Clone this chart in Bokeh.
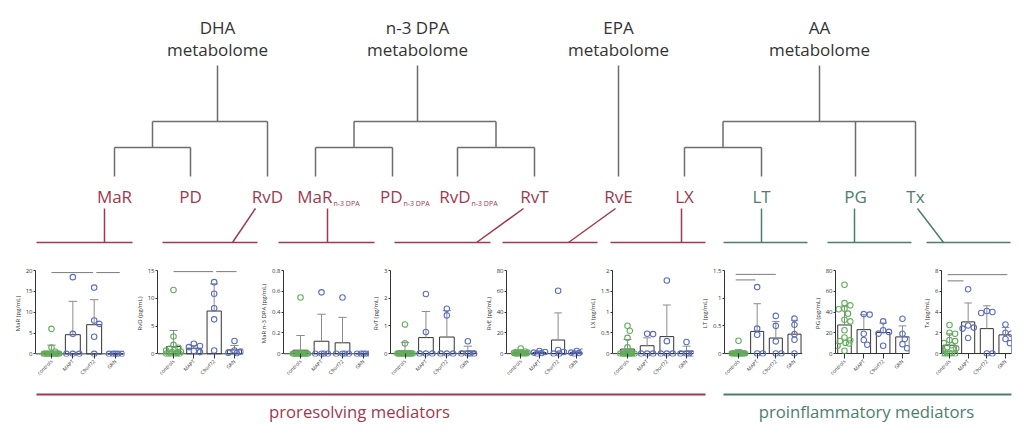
import math
from bokeh.plotting import figure
from bokeh.layouts import column, row
from bokeh.models import Range1d, FixedTicker, LinearAxis
from bokeh.core.properties import value
from bokeh.embed import file_html
from bokeh.resources import INLINE

FONT = "Open Sans"
RED = "#9e3a4f"
GREEN = "#4e7d6f"
TREE = "#6d6d6d"
DARK = "#333333"
ERR = "#8c8c8c"
PT_CTRL = "#62ad5c"
PT_PAT = "#5b6fbf"

# ---------------- data ----------------
groups = ["controls", "MAPT", "C9orf72", "GRN"]
mediators = ["MaR", "RvD", "MaR n-3 DPA", "RvT", "RvE", "LX", "LT", "PG", "Tx"]
y_titles = ["MaR (pg/mL)", "RvD (pg/mL)", "MaR n-3 DPA (pg/mL)", "RvT (pg/mL)", "RvE (pg/mL)",
            "LX (pg/mL)", "LT (pg/mL)", "PG (pg/mL)", "Tx (pg/mL)"]
y_max = [20, 15, 0.8, 3, 80, 2.0, 1.5, 80, 8]
y_ticks = [[0, 5, 10, 15, 20], [0, 5, 10, 15], [0, 0.2, 0.4, 0.6, 0.8], [0, 1, 2, 3],
           [0, 20, 40, 60, 80], [0, 0.5, 1.0, 1.5, 2.0], [0, 0.5, 1.0, 1.5], [0, 20, 40, 60, 80],
           [0, 2, 4, 6, 8]]

MaR_mean = [0.5, 4.6, 7.0, 0.0]
MaR_sdtop = [2.1, 12.6, 13.0, 0.0]
MaR_pts = [[6.0, 1.5, 0.5] + [0] * 13, [18.4, 4.8, 0, 0, 0], [15.9, 8.0, 7.2, 4.1, 0], [0, 0, 0, 0, 0]]

RvD_mean = [1.3, 1.0, 7.7, 0.7]
RvD_sdtop = [4.2, 1.5, 12.6, 1.5]
RvD_pts = [[11.5, 3.1, 1.6, 1.1, 0.9, 0.8, 0.6, 0.4, 0.3, 0.2, 0, 0, 0, 0, 0, 0],
           [1.8, 1.4, 1.2, 0.5, 0.3], [12.9, 10.8, 8.2, 6.2, 0.6], [2.3, 0.6, 0.4, 0.2, 0.1]]

MaRn3_mean = [0.034, 0.12, 0.105, 0.0]
MaRn3_sdtop = [0.175, 0.38, 0.35, 0.0]
MaRn3_pts = [[0.54] + [0] * 15, [0.59, 0, 0, 0, 0], [0.54, 0, 0, 0, 0], [0, 0, 0, 0, 0]]

RvT_mean = [0.09, 0.58, 0.6, 0.09]
RvT_sdtop = [0.4, 1.52, 1.55, 0.27]
RvT_pts = [[1.05, 0.37] + [0] * 14, [2.15, 0.78, 0, 0, 0], [1.62, 1.38, 0, 0, 0], [0.45, 0, 0, 0, 0]]

RvE_mean = [0.9, 1.1, 13.1, 1.2]
RvE_sdtop = [2.3, 2.1, 39.2, 2.2]
RvE_pts = [[5.0, 2.0, 1.5, 1.2, 1.0, 0.8, 0.6, 0.5, 0.4, 0.3, 0.2, 0.2, 0.1, 0, 0, 0],
           [2.5, 1.5, 1.0, 0.5, 0], [60.5, 3.5, 1.5, 0, 0], [2.5, 2.0, 1.0, 0.5, 0]]

LX_mean = [0.11, 0.19, 0.41, 0.056]
LX_sdtop = [0.34, 0.38, 1.17, 0.18]
LX_pts = [[0.67, 0.55, 0.38, 0.15, 0.05] + [0] * 11, [0.48, 0.47, 0, 0, 0], [1.76, 0.3, 0, 0, 0],
          [0.28, 0, 0, 0, 0]]

LT_mean = [0.014, 0.4, 0.28, 0.35]
LT_sdtop = [0.07, 0.9, 0.58, 0.6]
LT_pts = [[0.23] + [0] * 15, [1.2, 0.45, 0.34, 0, 0], [0.68, 0.5, 0.22, 0, 0], [0.63, 0.52, 0.35, 0.25, 0]]

PG_mean = [27.5, 23.0, 20.2, 16.0]
PG_sdtop = [45.8, 37.4, 29.4, 26.6]
PG_pts = [[66.2, 48.6, 46.4, 43.2, 42.6, 38.4, 32.6, 31.0, 22.4, 15.4, 12.8, 12.0, 10.2, 9.6, 7.4, 2.6],
          [38.0, 37.5, 19.0, 13.0, 8.5], [31.0, 22.4, 20.8, 19.2, 7.4], [33.5, 19.0, 14.0, 9.0, 5.0]]

Tx_mean = [0.8, 3.05, 2.4, 1.8]
Tx_sdtop = [1.9, 4.87, 4.6, 2.5]
Tx_pts = [[2.75, 2.0, 1.9, 1.3, 1.2, 1.0, 0.8, 0.6, 0.5, 0.3, 0, 0, 0, 0, 0, 0],
          [6.2, 2.7, 2.5, 2.4, 1.5], [4.1, 4.0, 3.9, 0, 0], [2.8, 2.0, 1.9, 1.4, 1.0]]

means = [MaR_mean, RvD_mean, MaRn3_mean, RvT_mean, RvE_mean, LX_mean, LT_mean, PG_mean, Tx_mean]
sdtops = [MaR_sdtop, RvD_sdtop, MaRn3_sdtop, RvT_sdtop, RvE_sdtop, LX_sdtop, LT_sdtop, PG_sdtop, Tx_sdtop]
points = [MaR_pts, RvD_pts, MaRn3_pts, RvT_pts, RvE_pts, LX_pts, LT_pts, PG_pts, Tx_pts]

# significance brackets: (panel, from group, to group, y level)
sig_panel = [0, 0, 1, 1, 6, 6, 6, 8, 8]
sig_from = [1, 3.1, 1, 3.1, 0.85, 0.85, 0.85, 0.9, 0.9]
sig_to = [2.95, 4.2, 2.95, 4.1, 4, 3, 1.9, 4.1, 1.75]
sig_y = [19.5, 19.5, 14.8, 14.8, 1.52, 1.43, 1.33, 7.6, 7.0]

# tree
headers = ["DHA", "n-3 DPA", "EPA", "AA"]
header_x = [217, 417, 618, 819]
leaf_names = ["MaR", "PD", "RvD", "MaR_n3", "PD_n3", "RvD_n3", "RvT", "RvE", "LX", "LT", "PG", "Tx"]
leaf_x = [114, 190, 267, 315, 392, 457, 534, 618, 684, 761, 855, 915]
leaf_color = [RED] * 9 + [GREEN] * 3
trees = [[["MaR", "PD"], "RvD"],
         [["MaR_n3", "PD_n3"], ["RvD_n3", "RvT"]],
         "RvE",
         [["LX", "LT"], "PG", "Tx"]]

# ---------------- layout (page pixels) ----------------
# fig_left, axis_x, frame_right, first category px, last category px, top-tick px
PANEL_PX = [(0, 35, 124, 51, 115, 258),
            (130, 157, 243, 173, 234, 261),
            (252, 283, 369, 300, 363, 263),
            (369, 387, 477, 402, 467, 265),
            (481, 502, 582, 517, 576, 266),
            (584, 612, 693, 627, 686, 266),
            (695, 724, 802, 738, 794, 269),
            (804, 835, 909, 844, 902, 270),
            (918, 941, 1011, 949, 1005, 269)]
PAGE_L, PAGE_R = 0, 1016
TOP_T, TOP_B = 0, 250
FIG_TOP, FIG_BOT = 250, 385
BOT_B = 426
ZERO = 353
PAD = 3
DIAM = 5.5


def swarm(vals, ppu, sp):
    """simple beeswarm: offsets (category units) so circles do not overlap"""
    cands = [0.0]
    for j in range(1, 7):
        cands += [0.06 * j, -0.06 * j]
    placed = []
    offs = [0.0] * len(vals)
    for k in sorted(range(len(vals)), key=lambda k: -vals[k]):
        best, best_d = None, -1
        for c in cands:
            d = min([math.hypot((c - o) * sp, (vals[k] - v) * ppu) for o, v in placed] + [99])
            if d >= DIAM:
                best = c
                break
            if d > best_d:
                best, best_d = c, d
        offs[k] = best
        placed.append((best, vals[k]))
    return offs


def make_panel(i):
    fl, ax, frr, c1, c4, topv = PANEL_PX[i]
    fig_r = PANEL_PX[i + 1][0] if i < 8 else PAGE_R
    sp = (c4 - c1) / 3
    xs = 1 + (ax - c1) / sp
    xe = 1 + (frr - c1) / sp
    ppu = (ZERO - topv) / y_max[i]
    ys = -PAD / ppu
    p = figure(width=fig_r - fl, height=FIG_BOT - FIG_TOP,
               x_range=Range1d(xs, xe), y_range=Range1d(ys, y_max[i]),
               output_backend="svg", toolbar_location=None, title=None,
               x_axis_location=None, y_axis_location="left",
               min_border_left=ax - fl, min_border_right=fig_r - frr,
               min_border_top=topv - FIG_TOP, min_border_bottom=FIG_BOT - (ZERO + PAD))
    p.outline_line_color = None
    p.xgrid.visible = False
    p.ygrid.visible = False

    xcat = [k + 1 for k in range(4)]
    p.vbar(x=xcat, top=means[i], bottom=0, width=0.7, fill_color="white",
           line_color=DARK, line_width=1)
    # error bars (mean to mean+SD)
    ex0, ey0, ey1, cx0, cx1 = [], [], [], [], []
    for k in range(4):
        if sdtops[i][k] > means[i][k]:
            ex0.append(xcat[k]); ey0.append(means[i][k]); ey1.append(sdtops[i][k])
            cx0.append(xcat[k] - 0.2); cx1.append(xcat[k] + 0.2)
    p.segment(x0=ex0, y0=ey0, x1=ex0, y1=ey1, line_color=ERR, line_width=1)
    p.segment(x0=cx0, y0=ey1, x1=cx1, y1=ey1, line_color=ERR, line_width=1)
    # x baseline at zero (axis line)
    p.segment(x0=[xs], y0=[0], x1=[xe], y1=[0], line_color=DARK, line_width=1)
    # points
    for k in range(4):
        vals = points[i][k]
        offs = swarm(vals, ppu, sp)
        p.scatter(x=[xcat[k] + o for o in offs], y=vals, marker="circle", size=DIAM,
                  fill_color=None, line_color=PT_CTRL if k == 0 else PT_PAT, line_width=1.1)
    # significance lines
    sx0 = [sig_from[j] for j in range(len(sig_panel)) if sig_panel[j] == i]
    sx1 = [sig_to[j] for j in range(len(sig_panel)) if sig_panel[j] == i]
    sy = [sig_y[j] for j in range(len(sig_panel)) if sig_panel[j] == i]
    if sx0:
        p.segment(x0=sx0, y0=sy, x1=sx1, y1=sy, line_color="#7a7a7a", line_width=1)

    # category axis
    xa = LinearAxis(ticker=FixedTicker(ticks=xcat),
                    major_label_overrides={xcat[k]: groups[k] for k in range(4)},
                    major_label_orientation=0.785)
    p.add_layout(xa, "below")

    ya = p.yaxis[0]
    ya.ticker = FixedTicker(ticks=y_ticks[i])
    ya.bounds = (0, y_max[i])
    ya.axis_label = y_titles[i]
    for a in (xa, ya):
        a.axis_line_color = DARK
        a.axis_line_width = 1
        a.major_tick_line_color = DARK
        a.major_tick_out = 2
        a.major_tick_in = 0
        a.minor_tick_out = 0
        a.minor_tick_in = 0
        a.major_label_text_font = FONT
        a.major_label_text_color = DARK
        a.major_label_standoff = 1
        a.axis_label_text_font = FONT
        a.axis_label_text_font_size = "6px"
        a.axis_label_text_font_style = "normal"
        a.axis_label_text_color = DARK
        a.axis_label_standoff = 1
    xa.axis_line_color = None
    xa.major_tick_in = PAD
    xa.major_label_standoff = 2
    ya.major_label_text_font_size = "6px"
    xa.major_label_text_font_size = "5px"
    return p


# ---------------- top figure: tree ----------------
top = figure(width=PAGE_R - PAGE_L, height=TOP_B - TOP_T,
             x_range=Range1d(PAGE_L, PAGE_R), y_range=Range1d(TOP_B, TOP_T),
             output_backend="svg", toolbar_location=None, title=None,
             x_axis_location=None, y_axis_location=None, min_border=0)
top.outline_line_color = None
top.xgrid.visible = False
top.ygrid.visible = False

HDR_TOP, BAR_Y, LEAF_Y = 65, [121, 147], 176
segs = {"x0": [], "y0": [], "x1": [], "y1": []}


def add_seg(a, b, c, d):
    segs["x0"].append(a); segs["y0"].append(b); segs["x1"].append(c); segs["y1"].append(d)


def draw(node, parent_y, level):
    if isinstance(node, str):
        x = leaf_x[leaf_names.index(node)]
        add_seg(x, parent_y, x, LEAF_Y)
        return x
    own_y = BAR_Y[level]
    xs = [draw(c, own_y, level + 1) for c in node]
    add_seg(min(xs), own_y, max(xs), own_y)
    x = (min(xs) + max(xs)) / 2
    add_seg(x, parent_y, x, own_y)
    return x


for t, hx in zip(trees, header_x):
    if isinstance(t, str):
        add_seg(hx, HDR_TOP, hx, LEAF_Y)
    else:
        xs = [draw(c, BAR_Y[0], 1) for c in t]
        add_seg(min(xs), BAR_Y[0], max(xs), BAR_Y[0])
        add_seg(hx, HDR_TOP, hx, BAR_Y[0])
top.segment(x0="x0", y0="y0", x1="x1", y1="y1", source=segs, line_color=TREE, line_width=1.5)

top.text(x=header_x, y=[27] * 4, text=headers, text_font=value(FONT), text_font_size="17px",
         text_color=DARK, text_align="center", text_baseline="middle")
top.text(x=header_x, y=[49] * 4, text=["metabolome"] * 4, text_font=value(FONT), text_font_size="17px",
         text_color=DARK, text_align="center", text_baseline="middle")

# leaf labels
main_txt = ["MaR", "PD", "RvD", "MaR", "PD", "RvD", "RvT", "RvE", "LX", "LT", "PG", "Tx"]
plain = [0, 1, 2, 6, 7, 8, 9, 10, 11]
top.text(x=[leaf_x[k] for k in plain], y=[196] * len(plain), text=[main_txt[k] for k in plain],
         text_font=value(FONT), text_font_size="17px", text_color=[leaf_color[k] for k in plain],
         text_align="center", text_baseline="middle")
sub_end = [332, 402, 470]
top.text(x=sub_end, y=[196] * 3, text=["MaR", "PD", "RvD"], text_font=value(FONT), text_font_size="17px",
         text_color=RED, text_align="right", text_baseline="middle")
top.text(x=[e + 1 for e in sub_end], y=[203] * 3, text=["n-3 DPA"] * 3, text_font=value(FONT),
         text_font_size="7px", text_color=RED, text_align="left", text_baseline="middle")

# connectors from leaves to panels
con_top_x = [104, 255, 327, 523, 615, 681, 761, 854, 917]
con_bot_x = [104, 232, 327, 476, 568, 681, 761, 854, 943]
bar_l = [36, 162, 278, 394, 502, 610, 723, 827, 926]
bar_r = [132, 257, 374, 490, 597, 705, 807, 911, 1010]
con_col = [RED] * 6 + [GREEN] * 3
top.segment(x0=con_top_x, y0=[208] * 9, x1=con_bot_x, y1=[242] * 9, line_color=con_col, line_width=1.5)
top.segment(x0=bar_l, y0=[242] * 9, x1=bar_r, y1=[242] * 9, line_color=con_col, line_width=1.5)

# ---------------- bottom figure ----------------
bot = figure(width=PAGE_R - PAGE_L, height=BOT_B - FIG_BOT,
             x_range=Range1d(PAGE_L, PAGE_R), y_range=Range1d(BOT_B, FIG_BOT),
             output_backend="svg", toolbar_location=None, title=None,
             x_axis_location=None, y_axis_location=None, min_border=0)
bot.outline_line_color = None
bot.xgrid.visible = False
bot.ygrid.visible = False
cat_names = ["proresolving mediators", "proinflammatory mediators"]
cat_l = [36, 723]
cat_r = [705, 1011]
cat_col = [RED, GREEN]
bot.segment(x0=cat_l, y0=[394, 394], x1=cat_r, y1=[394, 394], line_color=cat_col, line_width=2)
bot.text(x=[359, 866], y=[411, 411], text=cat_names, text_font=value(FONT), text_font_size="16.7px",
         text_color=cat_col, text_align="center", text_baseline="middle")

panels = [make_panel(i) for i in range(9)]
layout = column(top, row(*panels), bot)
open("out.html", "w").write(file_html(layout, INLINE))
